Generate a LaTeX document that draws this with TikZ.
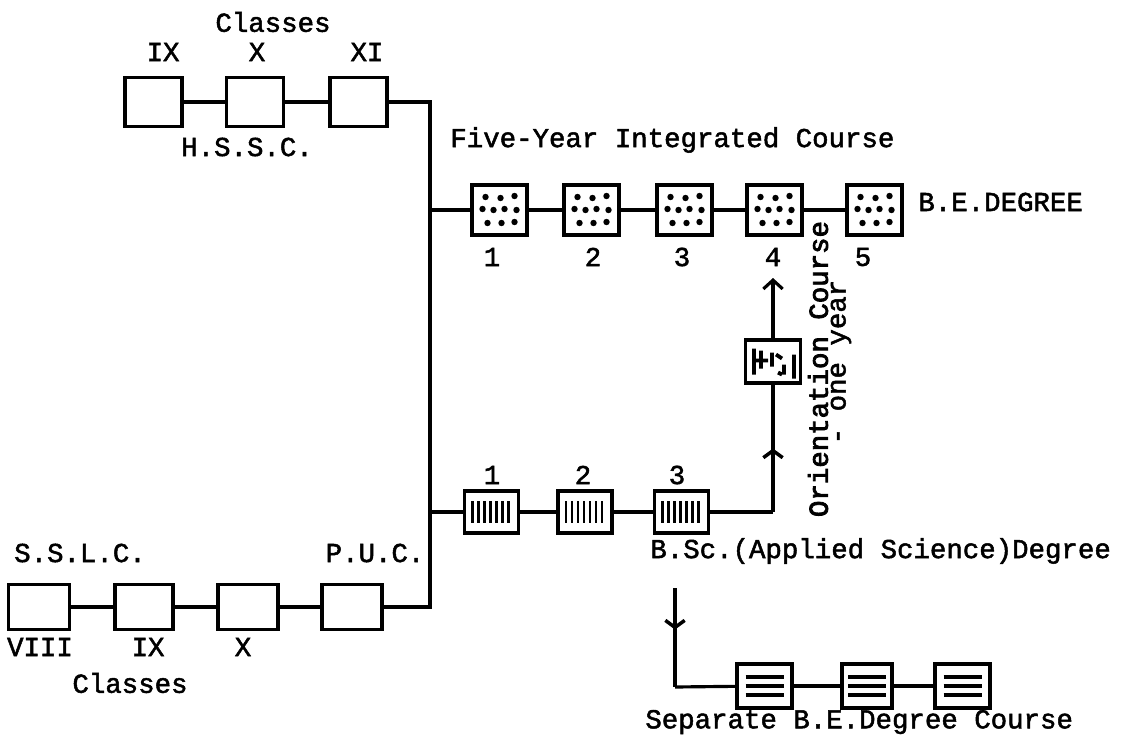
\documentclass[tikz,border=0pt]{standalone}
\usepackage{fontspec}
\newfontfamily\tw[FakeBold=1.8]{Liberation Mono}
\newfontfamily\twb[FakeBold=3]{Liberation Mono}
\usetikzlibrary{arrows.meta,decorations.markings}
\begin{document}
\begin{tikzpicture}[x=0.02cm,y=-0.02cm,
  every node/.style={font=\tw\fontsize{15.6}{18}\selectfont, inner sep=0pt},
  conn/.style={line width=1.8pt},
  box/.style={draw, line width=2.2pt, inner sep=0pt, minimum width=1.14cm, minimum height=0.98cm},
  dotbox/.style={box, minimum width=1.1cm, minimum height=1.0cm,
    path picture={\foreach \dx/\dy in {-14/-13,1/-12,15/-14,-17/-1,-6/0,5/-1,17/0,-12/13,2/13,15/12}
      \fill (path picture bounding box.center) ++(\dx,\dy) circle (3.2);}},
  vbox/.style={box, minimum width=1.08cm, minimum height=0.84cm,
    path picture={\foreach \dx in {-19,-13,-7,-1,5,11,17}
      \draw[line width=1.5pt] (path picture bounding box.center) ++(\dx,-11) -- ++(0,22);}},
  hbox/.style={box, minimum width=1.1cm, minimum height=0.88cm,
    path picture={\foreach \dy in {-9,0,9}
      \draw[line width=1.8pt] (path picture bounding box.center) ++(-19,\dy) -- ++(38,0);}},
  obox/.style={box, minimum width=1.1cm, minimum height=0.86cm,
    path picture={\draw[line width=2.2pt] (path picture bounding box.center)
      ++(-19,-13) -- ++(0,26) ++(7,-24) -- ++(0,18) ++(-7,-8) -- ++(14,0)
      ++(4,-8) -- ++(0,14) ++(4,-12) -- ++(6,4) ++(2,6) -- ++(0,10) ++(-6,-2) -- ++(4,2)
      ++(12,-20) -- ++(0,24);}},
  midup/.style={postaction={decorate}, decoration={markings,
    mark=at position 0.5 with {\arrow{Straight Barb[length=4pt,width=11pt,line width=2pt]}}}},
  middown/.style={postaction={decorate}, decoration={markings,
    mark=at position 0.42 with {\arrow{Straight Barb[length=4pt,width=11pt,line width=2pt]}}}}
]
\useasboundingbox (0,0) rectangle (1125,740);

% top row (H.S.S.C.)
\node (tclasses) at (273,22) {Classes};
\node (tIX) at (163,52) {IX};
\node (tX) at (257,52) {X};
\node (tXI) at (367,52) {XI};
\node[box] (h1) at (153.5,102) {};
\node[box] (h2) at (255,102) {};
\node[box] (h3) at (358.5,102) {};
\node (hssc) at (247,147) {H.S.S.C.};
\draw[conn] (h1) -- (h2);
\draw[conn] (h2) -- (h3);

% bottom row (S.S.L.C. / P.U.C.)
\node (sslc) at (80,553) {S.S.L.C.};
\node (puc) at (375,553) {P.U.C.};
\node[box, minimum width=1.22cm, minimum height=0.9cm] (s1) at (39,607) {};
\node[box, minimum width=1.16cm, minimum height=0.9cm] (s2) at (144,607) {};
\node[box, minimum width=1.2cm, minimum height=0.9cm] (s3) at (248,607) {};
\node[box, minimum width=1.2cm, minimum height=0.9cm] (s4) at (352,607) {};
\node (bVIII) at (40,647) {VIII};
\node (bIX) at (148,647) {IX};
\node (bX) at (243,647) {X};
\node (bclasses) at (130,683) {Classes};
\draw[conn] (s1) -- (s2);
\draw[conn] (s2) -- (s3);
\draw[conn] (s3) -- (s4);

% trunk
\coordinate (jt) at (430,102);
\coordinate (jb) at (430,607);
\coordinate (jf) at (430,210);
\coordinate (js) at (430,512);
\draw[conn, line width=2pt] (h3.east) -- (jt) -- (jb) -- (s4.east);

% five-year course
\node[anchor=west] (fyt) at (450,140) {Five-Year Integrated Course};
\node[dotbox] (f1) at (499.5,210) {};
\node[dotbox] (f2) at (591.5,210) {};
\node[dotbox] (f3) at (684.5,210) {};
\node[dotbox] (f4) at (774.5,210) {};
\node[dotbox] (f5) at (874.5,210) {};
\node[anchor=west] (bedeg) at (918,202) {B.E.DEGREE};
\node (n1) at (492,257) {1};
\node (n2) at (593,257) {2};
\node (n3) at (682,257) {3};
\node (n4) at (773,257) {4};
\node (n5) at (863,257) {5};
\draw[conn] (jf) -- (f1);
\draw[conn] (f1) -- (f2);
\draw[conn] (f2) -- (f3);
\draw[conn] (f3) -- (f4);
\draw[conn] (f4) -- (f5);

% B.Sc. course
\node (m1) at (492,475) {1};
\node (m2) at (583,475) {2};
\node (m3) at (677,475) {3};
\node[vbox] (b1) at (491.5,512) {};
\node[vbox] (b2) at (585,512) {};
\node[vbox] (b3) at (681.5,512) {};
\node[anchor=west] (bsc) at (650,551) {B.Sc.(Applied Science)Degree};
\draw[conn] (js) -- (b1);
\draw[conn] (b1) -- (b2);
\draw[conn] (b2) -- (b3);

% orientation course
\node[obox] (ob) at (773,361.5) {};
\coordinate (oc) at (773,512);
\coordinate (a4) at (773,278);
\draw[conn] (b3) -- (oc);
\draw[conn, midup] (oc) -- (ob.south);
\draw[conn, -{Straight Barb[length=5pt,width=11pt]}] (ob.north) -- (a4);
\node[rotate=90, font=\twb\fontsize{15.6}{18}\selectfont] (ort) at (818,369) {Orientation Course};
\node[rotate=90] (oyr) at (841,362) {- one year};

% separate B.E. course
\coordinate (d0) at (675,588);
\coordinate (d1) at (675,687);
\node[hbox] (p1) at (764.5,686) {};
\node[hbox, minimum width=1.0cm] (p2) at (867,686) {};
\node[hbox] (p3) at (962.5,686) {};
\node[anchor=west] (sep) at (645,722) {Separate B.E.Degree Course};
\draw[conn, middown] (d0) -- (d1);
\draw[conn] (d1) -- (p1);
\draw[conn] (p1) -- (p2);
\draw[conn] (p2) -- (p3);
\end{tikzpicture}
\end{document}
